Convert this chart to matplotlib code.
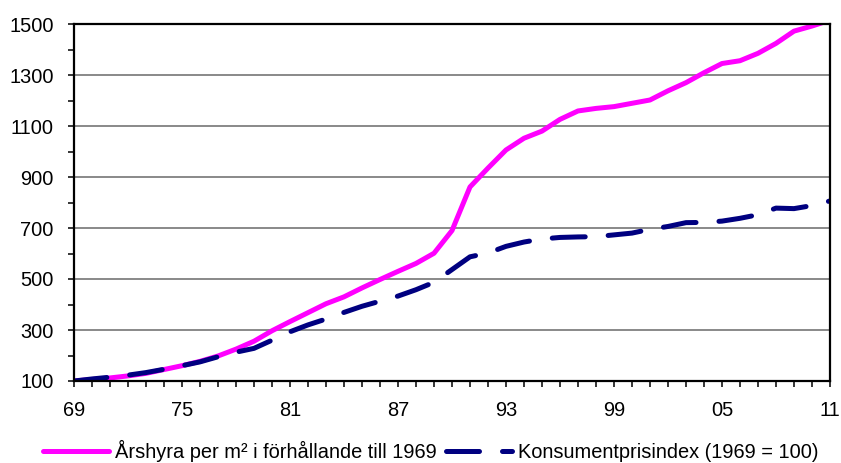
import matplotlib
matplotlib.use("Agg")
import matplotlib.pyplot as plt
from matplotlib.ticker import MultipleLocator, FixedLocator

plt.rcParams['font.family'] = ['Liberation Sans', 'DejaVu Sans']

years = list(range(1969, 2012))
hyra = [100, 106, 112, 120, 130, 145, 160, 177, 198, 225, 256, 297, 333, 368, 403,
        430, 465, 498, 530, 561, 601, 690, 861, 935, 1006, 1052, 1080, 1126, 1159, 1169,
        1176, 1189, 1202, 1238, 1270, 1309, 1345, 1356, 1385, 1424, 1472, 1492, 1515]
kpi = [100, 108, 115, 123, 133, 146, 160, 175, 195, 213, 228, 260, 293, 320, 343,
       369, 393, 413, 433, 458, 487, 537, 587, 602, 628, 645, 657, 663, 665, 666,
       673, 680, 695, 706, 721, 722, 727, 738, 752, 778, 776, 788, 806]

xtick_pos = [1969, 1975, 1981, 1987, 1993, 1999, 2005, 2011]
xtick_labels = ['69', '75', '81', '87', '93', '99', '05', '11']
ytick_pos = [100, 300, 500, 700, 900, 1100, 1300, 1500]

label1 = 'Årshyra per m² i förhållande till 1969'
label2 = 'Konsumentprisindex (1969 = 100)'

fig = plt.figure(figsize=(8.41, 4.63), dpi=100)
ax = fig.add_axes([74/841, 82/463, 756/841, 357/463])

ax.plot(years, hyra, color='#FF00FF', lw=3.6, solid_capstyle='round',
        solid_joinstyle='round', label=label1, zorder=3)
ax.plot(years, kpi, color='#000080', lw=3.6, dashes=(6.6, 4.6),
        dash_capstyle='round', dash_joinstyle='round', label=label2, zorder=4)

ax.set_xlim(1969, 2011)
ax.set_ylim(100, 1500)
ax.xaxis.set_major_locator(FixedLocator(xtick_pos))
ax.set_xticklabels(xtick_labels)
ax.xaxis.set_minor_locator(MultipleLocator(1))
ax.yaxis.set_major_locator(FixedLocator(ytick_pos))
ax.yaxis.set_minor_locator(MultipleLocator(100))

ax.tick_params(axis='both', which='both', direction='out', length=4.5, width=1.1,
               color='black')
ax.tick_params(axis='both', which='major', labelsize=14.4, pad=10)
ax.tick_params(axis='x', which='both', top=False)
ax.tick_params(axis='y', which='both', right=False)

ax.grid(axis='y', which='major', color='#808080', lw=1.3, zorder=1)
ax.set_axisbelow(True)
for s in ax.spines.values():
    s.set_color('black')
    s.set_linewidth(1.6)
    s.set_zorder(5)

leg = fig.legend(loc='center', bbox_to_anchor=(431/841, 12/463), ncol=2,
                 frameon=False, fontsize=14.4, handlelength=3.3,
                 handletextpad=0.3, columnspacing=0.45, borderpad=0)

fig.savefig('out.png', dpi=100)
